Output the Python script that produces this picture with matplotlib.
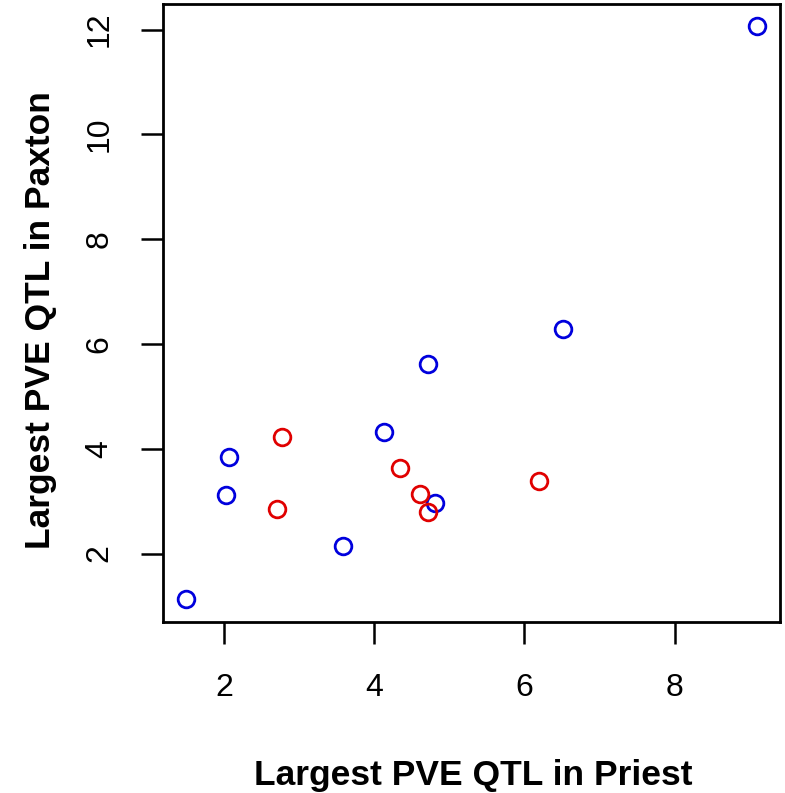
import matplotlib
matplotlib.use("Agg")
import matplotlib.pyplot as plt

plt.rcParams['font.family'] = ['Liberation Sans', 'DejaVu Sans']

# Data
blue_x = [1.49, 2.03, 2.06, 3.58, 4.13, 4.715, 4.81, 6.51, 9.10]
blue_y = [1.13, 3.11, 3.84, 2.15, 4.32, 5.62, 2.96, 6.29, 12.06]
red_x = [2.71, 2.765, 4.34, 4.61, 4.715, 6.19]
red_y = [2.85, 4.22, 3.63, 3.14, 2.79, 3.39]

x_ticks = [2, 4, 6, 8]
y_ticks = [2, 4, 6, 8, 10, 12]
x_label = "Largest PVE QTL in Priest"
y_label = "Largest PVE QTL in Paxton"

W, H = 785, 793
fig = plt.figure(figsize=(W / 100, H / 100), dpi=100)
ax = fig.add_axes([163 / W, 1 - 622 / H, (780 - 163) / W, (622 - 3.5) / H])

ms = 12
ax.plot(blue_x, blue_y, 'o', ms=ms, mfc='none', mec='#0000dd', mew=2.0, ls='none')
ax.plot(red_x, red_y, 'o', ms=ms, mfc='none', mec='#e00000', mew=2.0, ls='none')

allx = blue_x + red_x
ally = blue_y + red_y
def rlim(v):
    lo, hi = min(v), max(v)
    e = 0.04 * (hi - lo)
    return lo - e, hi + e
ax.set_xlim(*rlim(allx))
ax.set_ylim(*rlim(ally))

ax.set_xticks(x_ticks)
ax.set_yticks(y_ticks)
ax.set_xticklabels([str(t) for t in x_ticks])
ax.set_yticklabels([str(t) for t in y_ticks], rotation=90, va='center')
ax.tick_params(axis='both', length=16, width=1.8, labelsize=23, pad=21, direction='out')
ax.tick_params(axis='y', pad=19)
for s in ax.spines.values():
    s.set_linewidth(2.0)

fig.text(473 / W, 1 - 775 / H, x_label, ha='center', va='center', fontsize=25.5, fontweight='bold')
fig.text(41 / W, 1 - 320 / H, y_label, ha='center', va='center', fontsize=25.5, fontweight='bold', rotation=90)

fig.savefig('out.png', dpi=100)
